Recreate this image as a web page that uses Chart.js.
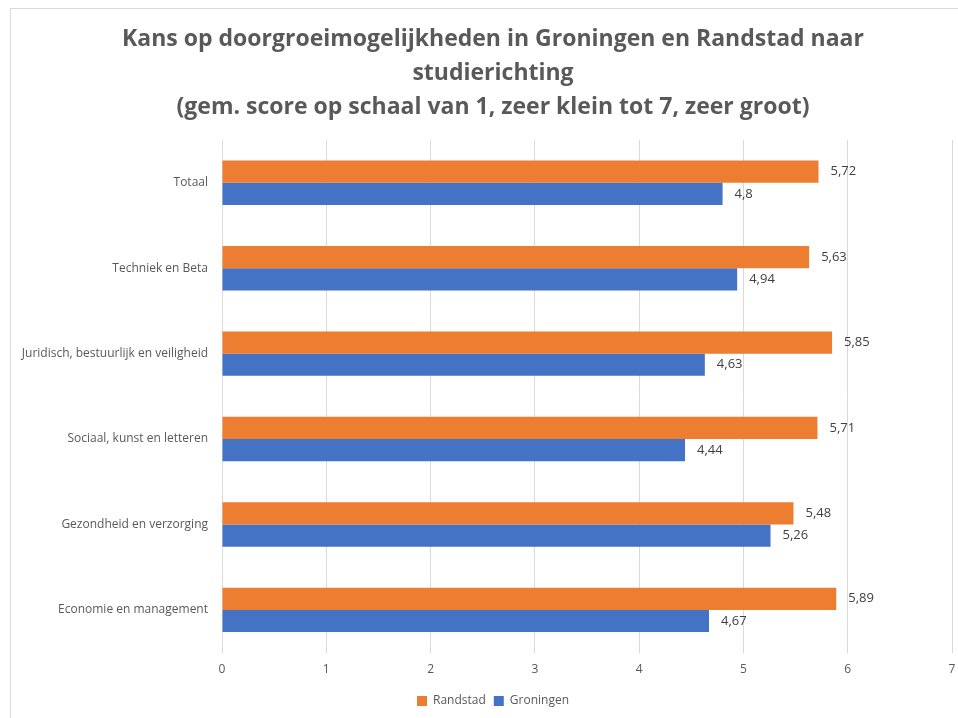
<!DOCTYPE html>
<html>
<head>
<meta charset="utf-8">
<script src="https://cdn.jsdelivr.net/npm/chart.js@4"></script>
<style>
  html, body { margin: 0; padding: 0; background: #fff; }
  #wrap { position: relative; width: 958px; height: 718px; }
  #frame { position: absolute; left: 10px; top: 8px; width: 960px; height: 730px; border: 1px solid #d9d9d9; box-sizing: border-box; }
  canvas { position: absolute; left: 0; top: 0; }
</style>
</head>
<body>
<div id="wrap">
  <div id="frame"></div>
  <canvas id="chart" width="958" height="718"></canvas>
</div>
<script>
// categorieën (boven naar beneden)
const categories = [
  'Totaal',
  'Techniek en Beta',
  'Juridisch, bestuurlijk en veiligheid',
  'Sociaal, kunst en letteren',
  'Gezondheid en verzorging',
  'Economie en management',
];
const randstad  = [5.72, 5.63, 5.85, 5.71, 5.48, 5.89];
const groningen = [4.8, 4.94, 4.63, 4.44, 5.26, 4.67];
const xTicks    = [0, 1, 2, 3, 4, 5, 6, 7];

const titleLines = [
  'Kans op doorgroeimogelijkheden in Groningen en Randstad naar',
  'studierichting',
  '(gem. score op schaal van 1, zeer klein tot 7, zeer groot)',
];

const FONT = "'Open Sans', 'Liberation Sans', sans-serif";

// labels achter de staven
const valueLabels = {
  id: 'valueLabels',
  afterDatasetsDraw(chart) {
    const ctx = chart.ctx;
    ctx.save();
    ctx.font = '13px ' + FONT;
    ctx.fillStyle = '#404040';
    ctx.textAlign = 'left';
    ctx.textBaseline = 'middle';
    chart.data.datasets.forEach((ds, i) => {
      const meta = chart.getDatasetMeta(i);
      meta.data.forEach((bar, j) => {
        const txt = String(ds.data[j]).replace('.', ',');
        ctx.fillText(txt, bar.x + 12, bar.y);
      });
    });
    ctx.restore();
  },
};

// categorie-labels niet afknippen aan de linkerkant
const unclipY = {
  id: 'unclipY',
  afterLayout(chart) { chart.scales.y.left = 0; },
};

new Chart(document.getElementById('chart'), {
  type: 'bar',
  data: {
    labels: categories,
    datasets: [
      { label: 'Randstad',  data: randstad,  backgroundColor: '#ED7D31', borderWidth: 0 },
      { label: 'Groningen', data: groningen, backgroundColor: '#4472C4', borderWidth: 0 },
    ],
  },
  options: {
    indexAxis: 'y',
    responsive: false,
    animation: false,
    layout: { padding: { left: 34, right: 6, top: 14, bottom: 1 } },
    datasets: { bar: { barPercentage: 1, categoryPercentage: 0.52 } },
    plugins: {
      title: {
        display: true,
        text: titleLines,
        color: '#595959',
        font: { family: FONT, size: 23, weight: 'bold', lineHeight: 1.48 },
        padding: { top: 8, bottom: 16 },
      },
      legend: {
        position: 'bottom',
        labels: {
          color: '#595959',
          font: { family: FONT, size: 12 },
          boxWidth: 10,
          boxHeight: 10,
          padding: 8,
        },
      },
      tooltip: { enabled: false },
    },
    scales: {
      x: {
        min: 0,
        max: 7,
        afterBuildTicks: s => { s.ticks = xTicks.map(v => ({ value: v })); },
        afterFit: s => { s.paddingRight = 0; s.paddingLeft = 0; },
        grid: { color: '#d9d9d9', drawTicks: false },
        border: { display: false },
        ticks: { color: '#595959', font: { family: FONT, size: 12 }, padding: 10 },
      },
      y: {
        afterFit: s => { s.width = 188; },
        grid: { display: false },
        border: { display: false },
        ticks: { color: '#595959', font: { family: FONT, size: 12 }, padding: 6 },
      },
    },
  },
  plugins: [valueLabels, unclipY],
});
</script>
</body>
</html>
